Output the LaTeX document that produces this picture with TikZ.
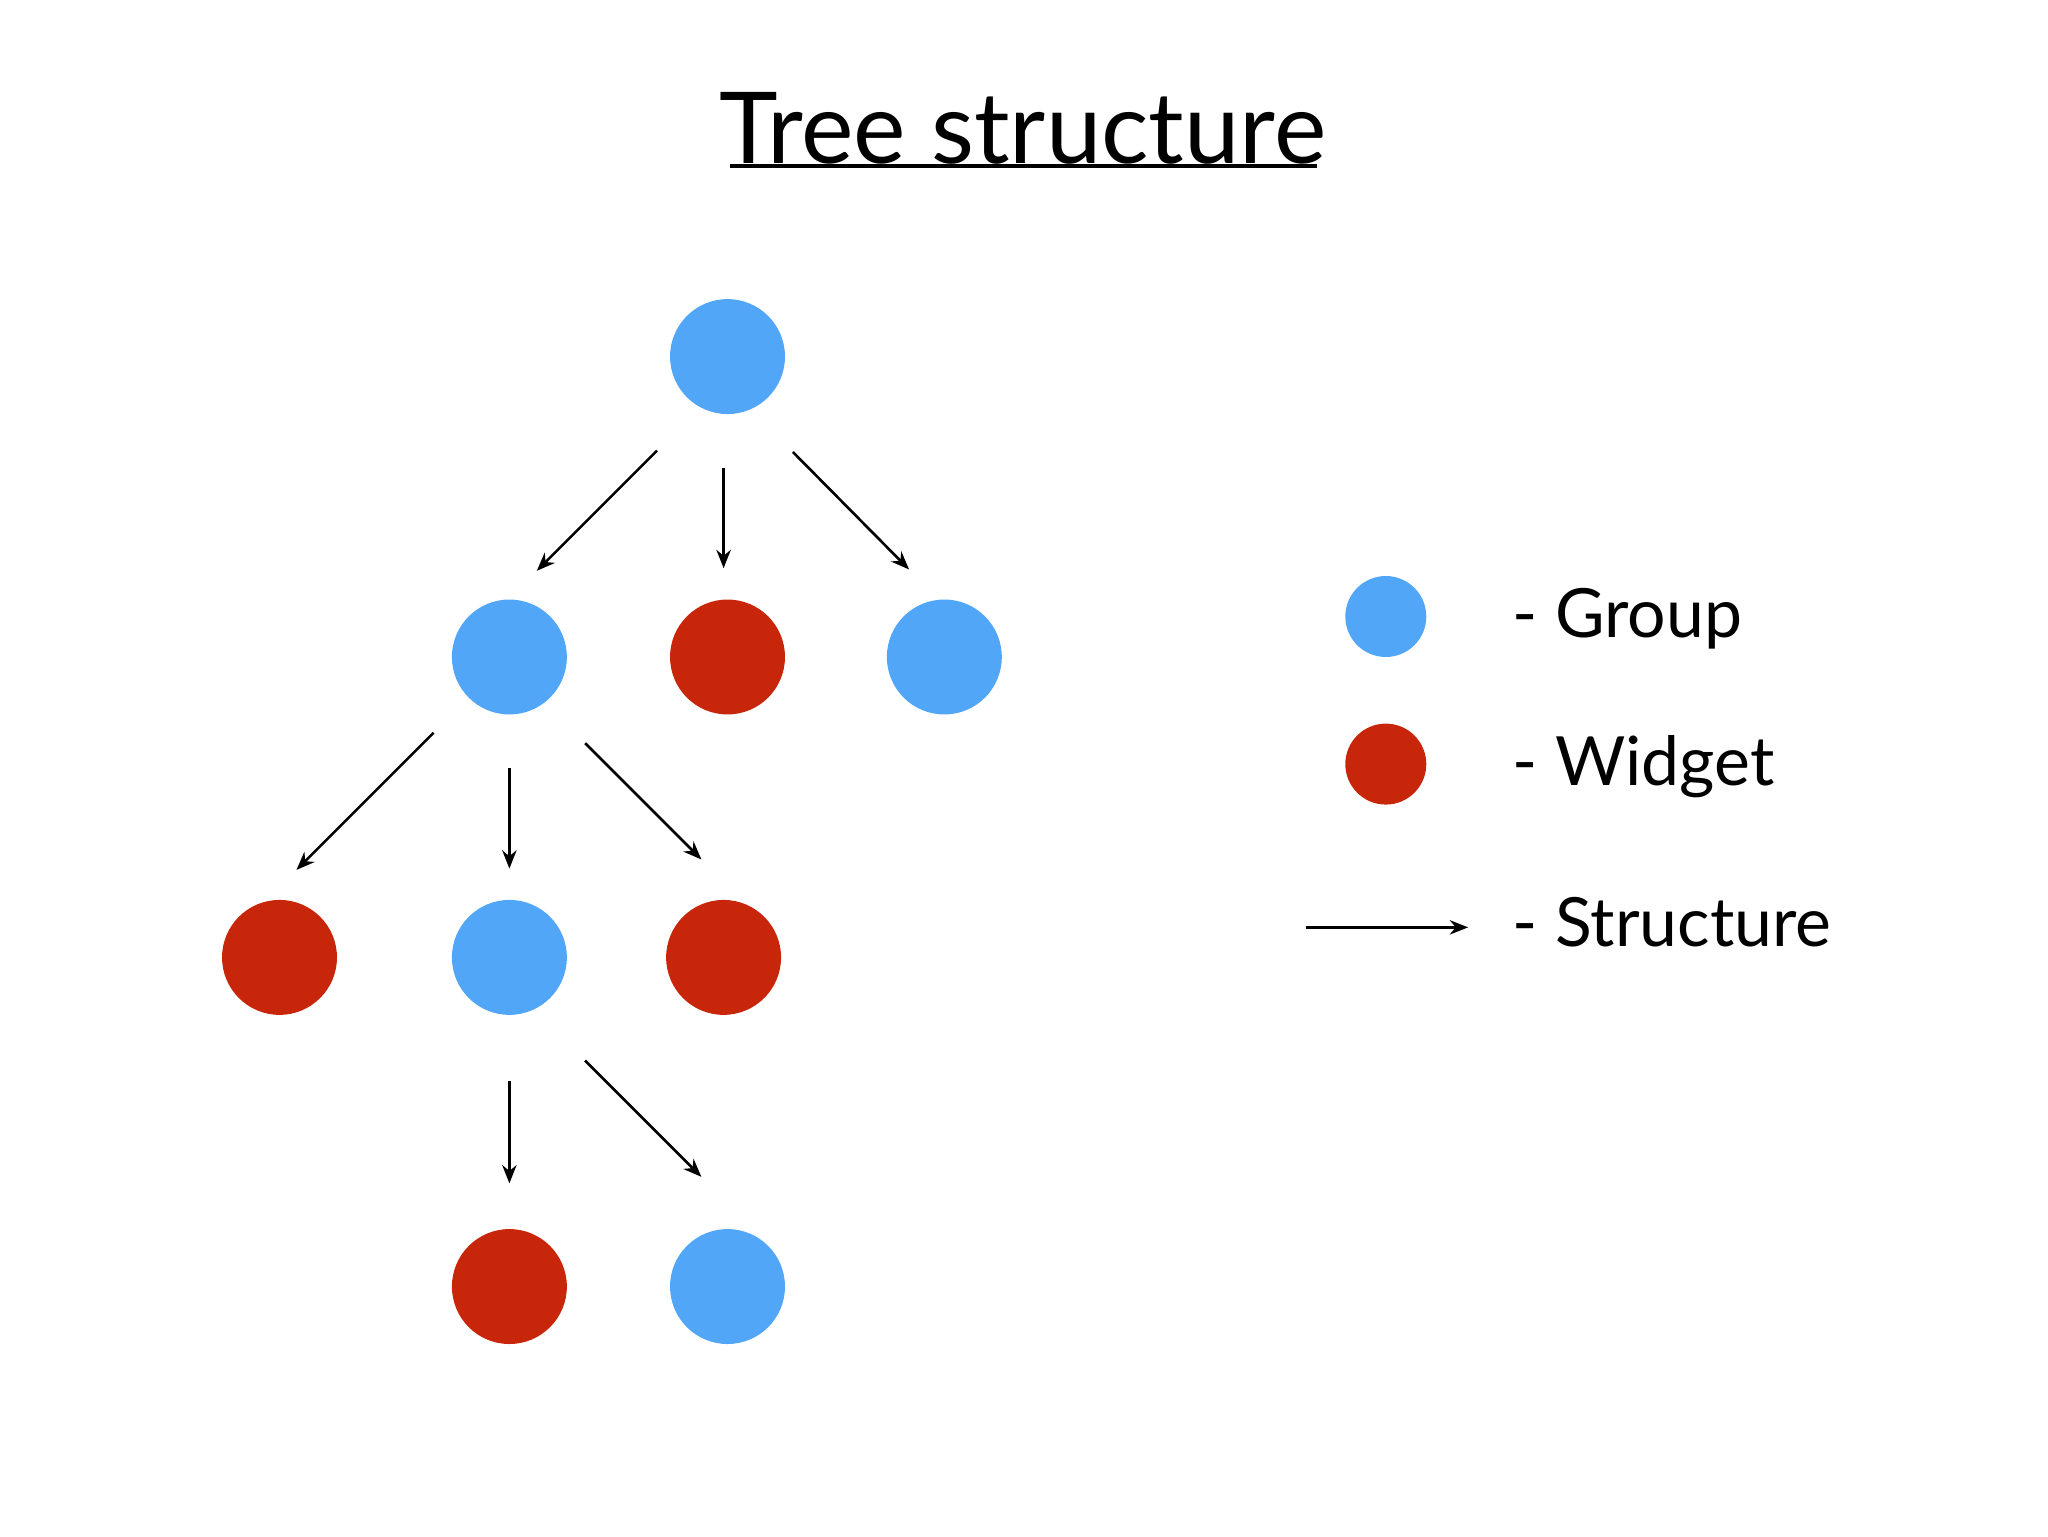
\documentclass[tikz,border=0pt]{standalone}
\usepackage{fontspec}
\setmainfont{Lato}
\usetikzlibrary{arrows.meta}
\definecolor{gblue}{RGB}{82,166,248}
\definecolor{wred}{RGB}{200,38,10}
\begin{document}
\begin{tikzpicture}[x=1pt,y=-1pt,
  grp/.style={circle,fill=gblue,minimum size=88pt,inner sep=0pt},
  wid/.style={circle,fill=wred,minimum size=88pt,inner sep=0pt},
  lgrp/.style={circle,fill=gblue,minimum size=62pt,inner sep=0pt},
  lwid/.style={circle,fill=wred,minimum size=62pt,inner sep=0pt},
  arr/.style={line width=2pt,-{Stealth[length=14pt,width=11pt]}},
  lbl/.style={font=\fontsize{52}{60}\selectfont,anchor=west,inner sep=0pt}]
\useasboundingbox (0,0) rectangle (1568,1176);
\node[font=\fontsize{76}{90}\selectfont,inner sep=0pt] (title) at (783,98) {Tree structure};
\draw[line width=3pt] (559,127) -- (1008,127);
\node[grp] (r) at (557,273) {};
\node[grp] (a) at (390,503) {};
\node[wid] (b) at (557,503) {};
\node[grp] (c) at (723,503) {};
\node[wid] (d) at (214,733) {};
\node[grp] (e) at (390,733) {};
\node[wid] (f) at (554,733) {};
\node[wid] (g) at (390,985) {};
\node[grp] (h) at (557,985) {};
\coordinate (r1) at (503,345); \coordinate (r1e) at (411,437);
\coordinate (r2) at (554,358); \coordinate (r2e) at (554,435);
\coordinate (r3) at (607,346); \coordinate (r3e) at (696,436);
\coordinate (a1) at (332,561); \coordinate (a1e) at (227,666);
\coordinate (a2) at (390,588); \coordinate (a2e) at (390,665);
\coordinate (a3) at (448,569); \coordinate (a3e) at (537,658);
\coordinate (e2) at (390,828); \coordinate (e2e) at (390,906);
\coordinate (e3) at (448,812); \coordinate (e3e) at (537,901);
\foreach \s/\t in {r1/r1e,r2/r2e,r3/r3e,a1/a1e,a2/a2e,a3/a3e,e2/e2e,e3/e3e}
  \draw[arr] (\s) -- (\t);
\node[lgrp] (lg) at (1061,472) {};
\node[lwid] (lw) at (1061,585) {};
\coordinate (ls) at (1000,710); \coordinate (lse) at (1124,710);
\draw[arr] (ls) -- (lse);
\node[lbl] (tg) at (1158,474) {- Group};
\node[lbl] (tw) at (1158,587) {- Widget};
\node[lbl] (ts) at (1158,706) {- Structure};
\end{tikzpicture}
\end{document}
